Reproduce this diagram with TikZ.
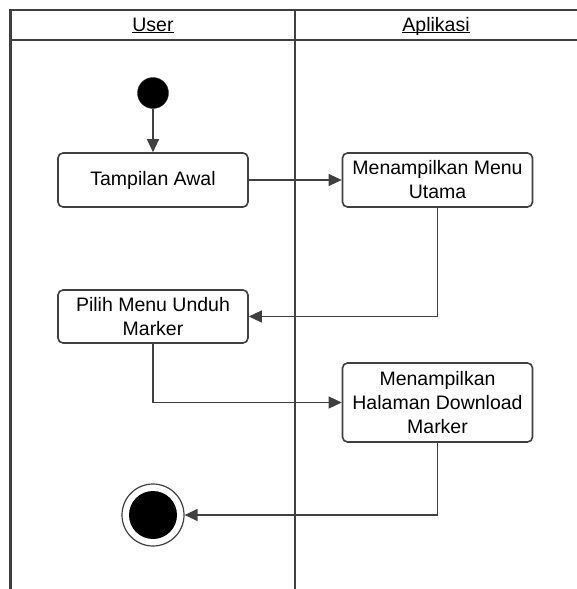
\documentclass[tikz,border=0pt]{standalone}
\usepackage{fontspec}
\setmainfont{Liberation Sans}
\usetikzlibrary{arrows.meta}

\begin{document}
\begin{tikzpicture}[x=1pt,y=-1pt,
		aksi/.style={draw=black!75,line width=1.6pt,rounded corners=5pt,fill=white,align=center,
			minimum width=190pt,inner sep=1pt,font=\fontsize{19.5}{24}\selectfont},
		alur/.style={draw=black!75,line width=1.3pt,-{Triangle[length=13pt,width=12pt]}},
		lajur/.style={draw=black!75,line width=2.2pt},
		judul/.style={anchor=base,inner sep=0pt,font=\fontsize{19.5}{22}\selectfont}]
			\useasboundingbox (0,0) rectangle (577,589);
			\draw[lajur] (10.5,589)--(10.5,10)--(577,10);
			\draw[lajur] (10.5,40)--(577,40);
			\draw[lajur] (295,10)--(295,589);
			\node[judul] (user) at (153,31) {\underline{\smash{User}}};
			\node[judul] (apl) at (436,31) {\underline{\smash{Aplikasi}}};
			\node[circle,fill=black,draw=black!80,minimum size=31pt,inner sep=0pt] (mulai) at (153,93) {};
			\node[aksi,minimum height=54pt] (awal) at (153,180) {Tampilan Awal};
			\node[aksi,minimum height=54pt] (menu) at (437.5,180) {Menampilkan Menu\\Utama};
			\node[aksi,minimum height=53pt] (pilih) at (153,316.5) {Pilih Menu Unduh\\Marker};
			\node[aksi,minimum height=79pt] (unduh) at (437.5,402.5) {Menampilkan\\Halaman Download\\Marker};
			\node[circle,draw=black!75,line width=1.2pt,minimum size=62pt,inner sep=0pt] (akhir) at (153,515) {};
			\fill (akhir.center) circle (24pt);
			\draw[alur] (mulai)--(awal);
			\draw[alur] (awal)--(menu);
			\draw[alur] (menu.south)|-(pilih.east);
			\draw[alur] (pilih.south)|-(unduh.west);
			\draw[alur] (unduh.south)|-(akhir.east);
		\end{tikzpicture}
\end{document}
